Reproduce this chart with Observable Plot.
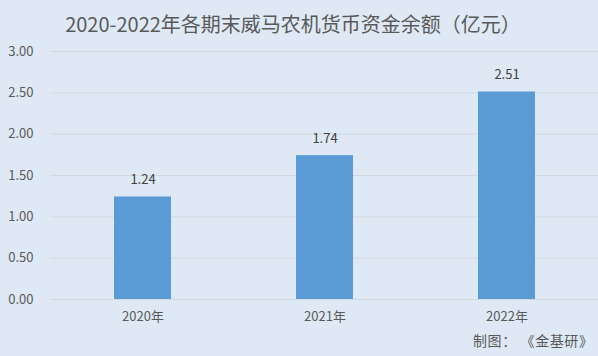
<!DOCTYPE html>
<html>
<head>
<meta charset="utf-8">
<script src="https://cdn.jsdelivr.net/npm/d3@7"></script>
<script src="https://cdn.jsdelivr.net/npm/@observablehq/plot@0.6"></script>
<style>
  html, body { margin: 0; padding: 0; background: #dee9f5; }
  #wrap { position: relative; width: 598px; height: 356px; overflow: hidden; background: #dee9f5;
          font-family: "Noto Sans CJK SC", "Noto Sans", sans-serif; }
  #title { position: absolute; left: 0; width: 586px; top: 9px; text-align: center;
           font-size: 20px; color: #595959; line-height: 30px; white-space: nowrap; }
  #caption { position: absolute; left: 473px; top: 330px; font-size: 14px; color: #595959;
             line-height: 20px; white-space: pre; letter-spacing: 0.6px; }
  #chart { position: absolute; left: 0; top: 0; }
</style>
</head>
<body>
<div id="wrap">
  <div id="chart"></div>
  <div id="title">2020-2022年各期末威马农机货币资金余额（亿元）</div>
  <div id="caption">制图： 《金基研》</div>
</div>
<script>
const years = ["2020年", "2021年", "2022年"];
const values = [1.24, 1.74, 2.51];
const yTicks = [0, 0.5, 1, 1.5, 2, 2.5, 3];

const data = years.map((y, i) => ({year: y, value: values[i]}));
const fmt = d3.format(".2f");

const plot = Plot.plot({
  width: 598,
  height: 356,
  marginTop: 51,
  marginBottom: 57,
  marginLeft: 50,
  marginRight: 0,
  style: {background: "transparent", fontFamily: "'Noto Sans CJK SC', 'Noto Sans', sans-serif", fontSize: "13px", color: "#595959"},
  x: {domain: years, paddingInner: 0.6885, paddingOuter: 0.344, label: null},
  y: {domain: [0, 3], label: null},
  marks: [
    Plot.ruleY(yTicks, {stroke: "#d3d8de", strokeWidth: 1}),
    Plot.axisY({ticks: yTicks, tickFormat: fmt, tickSize: 0, tickPadding: 17, label: null, fontSize: 13, fill: "#595959"}),
    Plot.axisX({tickSize: 0, tickPadding: 12, label: null, fontSize: 13, fill: "#595959"}),
    Plot.barY(data, {x: "year", y: "value", fill: "#5b9bd5"}),
    Plot.text(data, {x: "year", y: "value", text: d => fmt(d.value), dy: -17, fill: "#404040", fontSize: 13})
  ]
});
document.getElementById("chart").appendChild(plot);
</script>
</body>
</html>
